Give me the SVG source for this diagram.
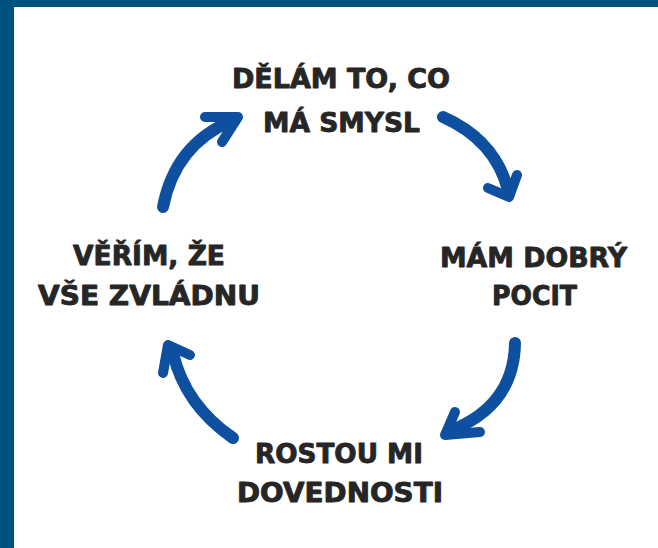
<svg xmlns="http://www.w3.org/2000/svg" width="658" height="548" viewBox="0 0 658 548">
<style>
.t{font-family:"DejaVu Sans","Liberation Sans",sans-serif;font-weight:bold;font-size:27px;fill:#262626;stroke:#262626;stroke-width:0.9;stroke-linejoin:round}
.shaft{fill:none;stroke:#0e509f;stroke-width:12;stroke-linecap:round}
.head{fill:none;stroke:#0e509f;stroke-width:10;stroke-linecap:round;stroke-linejoin:round}
</style>
<rect x="0" y="0" width="658" height="548" fill="#ffffff"/>
<rect x="0" y="0" width="658" height="7" fill="#00527f"/>
<rect x="0" y="0" width="14" height="548" fill="#00527f"/>
<g id="node-top">
<text class="t" x="232" y="88" textLength="218" lengthAdjust="spacingAndGlyphs">DĚLÁM TO, CO</text>
<text class="t" x="263" y="132" textLength="157" lengthAdjust="spacingAndGlyphs">MÁ SMYSL</text>
</g>
<g id="node-right">
<text class="t" x="440" y="267" textLength="187" lengthAdjust="spacingAndGlyphs">MÁM DOBRÝ</text>
<text class="t" x="492" y="305" textLength="85" lengthAdjust="spacingAndGlyphs">POCIT</text>
</g>
<g id="node-bottom">
<text class="t" x="255" y="463" textLength="168" lengthAdjust="spacingAndGlyphs">ROSTOU MI</text>
<text class="t" x="237" y="502" textLength="206" lengthAdjust="spacingAndGlyphs">DOVEDNOSTI</text>
</g>
<g id="node-left">
<text class="t" x="73" y="265" textLength="152" lengthAdjust="spacingAndGlyphs">VĚŘÍM, ŽE</text>
<text class="t" x="38" y="305" textLength="222" lengthAdjust="spacingAndGlyphs">VŠE ZVLÁDNU</text>
</g>
<g id="connectors">
<path class="shaft" d="M443,117 Q495,140 508,190"/>
<polyline class="head" points="488,188 509,197 517,175"/>
<path class="shaft" d="M515,343 Q514,405 452,430"/>
<polyline class="head" points="455,412 445,435 480,432"/>
<path class="shaft" d="M233,438 Q185,405 173,353"/>
<polyline class="head" points="163,373 168,345 190,355"/>
<path class="shaft" d="M163,207 Q175,145 231,121"/>
<polyline class="head" points="205,117 238,117 222,142"/>
</g>
</svg>
